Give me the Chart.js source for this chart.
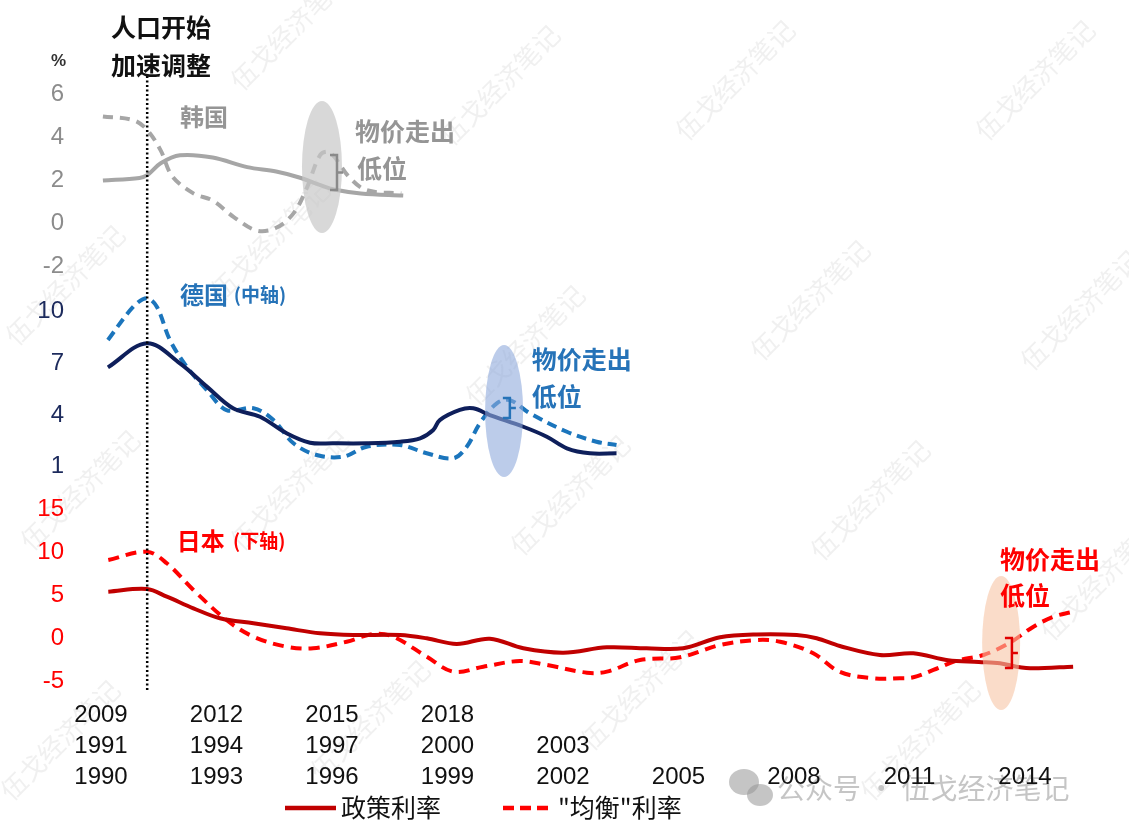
<!DOCTYPE html>
<html>
<head>
<meta charset="utf-8">
<script src="https://cdn.jsdelivr.net/npm/chart.js@4.4.1/dist/chart.umd.min.js"></script>
<style>
  html, body { margin: 0; padding: 0; background: #fff; }
  #wrap { width: 1129px; height: 832px; position: relative; }
</style>
</head>
<body>
<div id="wrap"><canvas id="rateChart"></canvas></div>
<script>
// Korea (top panel, years 2009-)
const krPolicyYears = [2009.05, 2010.0, 2010.2, 2010.55, 2011.05, 2011.9, 2012.8, 2013.55, 2014.15, 2014.7, 2015.05, 2015.75, 2016.85];
const krPolicy = [2.0, 2.12, 2.25, 2.8, 3.17, 3.07, 2.62, 2.42, 2.14, 1.78, 1.58, 1.4, 1.3];
const krNeutralYears = [2009.05, 2009.85, 2010.2, 2010.55, 2010.85, 2011.4, 2011.9, 2012.45, 2013.05, 2013.55, 2014.0, 2014.35, 2014.7, 2014.95, 2015.45, 2015.9, 2016.8];
const krNeutral = [4.98, 4.8, 4.35, 3.4, 2.2, 1.4, 1.07, 0.3, -0.33, -0.2, 0.47, 1.67, 3.2, 3.3, 2.15, 1.55, 1.4];

// Germany (middle panel, years 1991-)
const dePolicyYears = [1991.18, 1992.19, 1993.05, 1993.75, 1994.43, 1995.13, 1995.82, 1996.43, 1997.03, 1997.91, 1998.77, 1999.29, 1999.63, 1999.8, 2000.32, 2000.67, 2001.1, 2001.97, 2002.58, 2003.1, 2003.7, 2004.39];
const dePolicy = [6.77, 8.17, 7.0, 5.65, 4.39, 3.9, 2.94, 2.39, 2.36, 2.36, 2.45, 2.65, 3.13, 3.71, 4.3, 4.39, 4.0, 3.32, 2.74, 2.07, 1.78, 1.78];
const deNeutralYears = [1991.18, 1991.84, 1992.19, 1992.45, 1992.79, 1993.23, 1993.75, 1994.26, 1994.96, 1995.48, 1996.0, 1996.6, 1997.29, 1997.9, 1998.77, 1999.46, 2000.15, 2000.5, 2000.84, 2001.28, 2001.62, 2002.14, 2003.1, 2003.87, 2004.39];
const deNeutral = [8.36, 10.29, 10.78, 10.29, 8.36, 6.8, 5.45, 4.29, 4.39, 3.71, 2.36, 1.68, 1.58, 2.16, 2.26, 1.78, 1.49, 2.16, 3.52, 4.68, 4.87, 4.1, 3.03, 2.45, 2.26];

// Japan (bottom panel, years 1990-)
const jpPolicyYears = [1990.19, 1991.19, 1991.71, 1992.4, 1993.09, 1993.96, 1994.82, 1995.69, 1996.55, 1997.77, 1998.46, 1999.24, 2000.1, 2000.97, 2002.01, 2003.14, 2004.17, 2005.12, 2006.08, 2007.03, 2008.07, 2008.59, 2009.19, 2010.23, 2011.1, 2012.0, 2012.8, 2013.35, 2013.78, 2014.22, 2015.25];
const jpPolicy = [5.42, 5.73, 4.84, 3.49, 2.33, 1.74, 1.16, 0.58, 0.38, 0.38, 0.0, -0.66, -0.05, -1.16, -1.67, -1.05, -1.16, -1.16, 0.12, 0.45, 0.38, 0.0, -0.9, -1.94, -1.74, -2.55, -2.75, -2.9, -3.3, -3.49, -3.3];
const jpNeutralYears = [1990.19, 1991.19, 1991.71, 1992.4, 1993.26, 1993.96, 1994.82, 1995.51, 1996.38, 1997.07, 1997.59, 1998.46, 1999.15, 1999.93, 2000.88, 2001.58, 2002.62, 2003.14, 2004.0, 2005.04, 2006.08, 2007.03, 2007.64, 2008.5, 2009.19, 2010.06, 2010.75, 2011.1, 2011.62, 2012.23, 2012.92, 2013.61, 2014.22, 2014.74, 2015.25];
const jpNeutral = [9.1, 10.07, 8.72, 5.62, 2.13, 0.19, -0.98, -1.16, -0.4, 0.5, 0.19, -2.14, -3.88, -3.3, -2.64, -3.1, -4.0, -3.88, -2.52, -2.21, -0.78, -0.2, -0.4, -1.74, -3.9, -4.65, -4.65, -4.53, -3.68, -2.6, -1.94, -0.5, 1.35, 2.51, 3.09];

// tick labels
const krTicks = [6, 4, 2, 0, -2];
const deTicks = [10, 7, 4, 1];
const jpTicks = [15, 10, 5, 0, -5];
const krYearTicks = [2009, 2012, 2015, 2018];
const deYearTicks = [1991, 1994, 1997, 2000, 2003];
const jpYearTicks = [1990, 1993, 1996, 1999, 2002, 2005, 2008, 2011, 2014];

const shiftYearJP = 1991.2; // 人口开始加速调整

const CJK = '"Noto Sans CJK SC", "Noto Sans", sans-serif';
const NUM = '"Liberation Sans", Arial, sans-serif';

const KR_GREY = "#a6a6a6";
const KR_TEXT = "#959595";
const DE_NAVY = "#0e1f5b";
const DE_BLUE = "#1b75bc";
const DE_TEXT = "#2673b8";
const JP_DARK = "#c00000";
const JP_RED = "#ff0000";

function toPoints(xs, ys) {
    return xs.map((x, i) => ({ x: x, y: ys[i] }));
}

function fixedTicks(values) {
    return (axis) => {
        axis.ticks = values.map((v) => ({ value: v }));
    };
}

function yAxis(values, min, max, color, weight, stackWeight) {
    return {
        type: "linear",
        position: "left",
        stack: "panels",
        stackWeight: stackWeight,
        weight: weight,
        min: min,
        max: max,
        afterBuildTicks: fixedTicks(values),
        afterFit: (scale) => {
            scale.width = 75;
        },
        grid: { display: false, drawTicks: false },
        border: { display: false },
        ticks: {
            padding: 11,
            autoSkip: false,
            color: color,
            font: { family: NUM, size: 24 },
            callback: (v) => String(v),
        },
    };
}

function xAxis(values, min, weight) {
    return {
        type: "linear",
        position: "bottom",
        weight: weight,
        min: min,
        max: min + 26.623,
        afterBuildTicks: fixedTicks(values),
        afterFit: (scale) => {
            scale.height = 31;
        },
        grid: { display: false, drawTicks: false },
        border: { display: false },
        ticks: {
            padding: 5,
            autoSkip: false,
            maxRotation: 0,
            color: "#111",
            font: { family: NUM, size: 24 },
            callback: (v) => String(v),
        },
    };
}

function line(label, xs, ys, xId, yId, color, dash, width) {
    return {
        label: label,
        data: toPoints(xs, ys),
        xAxisID: xId,
        yAxisID: yId,
        borderColor: color,
        backgroundColor: color,
        borderWidth: width,
        borderDash: dash,
        pointRadius: 0,
        fill: false,
        tension: 0.35,
    };
}

// text notes placed in each panel's own data units
const notes = [
    { text: "韩国", x: "xKR", y: "yKR", xv: 2011.05, yv: 4.95, color: KR_TEXT, font: "bold 24px " + CJK },
    { text: "物价走出", x: "xKR", y: "yKR", xv: 2015.6, yv: 4.26, color: KR_TEXT, font: "bold 25px " + CJK },
    { text: "低位", x: "xKR", y: "yKR", xv: 2015.65, yv: 2.58, color: KR_TEXT, font: "bold 25px " + CJK },
    { text: "德国", x: "xDE", y: "yDE", xv: 1993.05, yv: 10.97, color: DE_TEXT, font: "bold 24px " + CJK },
    { text: "(中轴)", x: "xDE", y: "yDE", xv: 1994.45, yv: 10.97, color: DE_TEXT, font: "bold 19px " + CJK },
    { text: "物价走出", x: "xDE", y: "yDE", xv: 2002.19, yv: 7.25, color: DE_TEXT, font: "bold 25px " + CJK },
    { text: "低位", x: "xDE", y: "yDE", xv: 2002.19, yv: 5.05, color: DE_TEXT, font: "bold 25px " + CJK },
    { text: "日本", x: "xJP", y: "yJP", xv: 1991.97, yv: 11.31, color: JP_RED, font: "bold 24px " + CJK },
    { text: "(下轴)", x: "xJP", y: "yJP", xv: 1993.43, yv: 11.31, color: JP_RED, font: "bold 19px " + CJK },
    { text: "物价走出", x: "xJP", y: "yJP", xv: 2013.35, yv: 9.22, color: JP_RED, font: "bold 25px " + CJK },
    { text: "低位", x: "xJP", y: "yJP", xv: 2013.35, yv: 4.92, color: JP_RED, font: "bold 25px " + CJK },
];

// highlighted "prices leave the low" windows
const bubbles = [
    { x: "xKR", y: "yKR", xv: 2014.74, yv: 2.63, rx: 20, ry: 66, fill: "rgba(200,200,200,0.7)" },
    { x: "xDE", y: "yDE", xv: 2001.47, yv: 4.23, rx: 19, ry: 66, fill: "rgba(143,170,220,0.6)" },
    { x: "xJP", y: "yJP", xv: 2013.38, yv: -0.55, rx: 19, ry: 67, fill: "rgba(246,196,165,0.6)" },
];

const gaps = [
    { x: "xKR", y: "yKR", xv: 2015.13, top: 3.19, bottom: 1.56, color: "#8a8a8a" },
    { x: "xDE", y: "yDE", xv: 2001.62, top: 4.99, bottom: 3.83, color: DE_TEXT },
    { x: "xJP", y: "yJP", xv: 2013.66, top: 0.03, bottom: -3.45, color: "#e00000" },
];

const watermarkSpots = [
    [290, 30], [500, 85], [735, 80], [1035, 80],
    [65, 285], [270, 240], [525, 345], [810, 300], [1080, 310],
    [80, 490], [290, 490], [570, 495], [870, 500], [1100, 580],
    [60, 740], [370, 720], [640, 690], [920, 740],
];

const overlayPlugin = {
    id: "overlay",
    beforeDraw(chart) {
        const ctx = chart.ctx;
        ctx.save();
        ctx.fillStyle = "rgba(150,150,150,0.14)";
        ctx.font = "26px " + CJK;
        ctx.textAlign = "center";
        ctx.textBaseline = "middle";
        watermarkSpots.forEach(([x, y]) => {
            ctx.save();
            ctx.translate(x, y);
            ctx.rotate(-Math.PI / 4);
            ctx.fillText("伍戈经济笔记", 0, 0);
            ctx.restore();
        });
        // 公众号 mark
        ctx.fillStyle = "rgba(150,150,150,0.55)";
        ctx.beginPath();
        ctx.ellipse(744, 782, 15, 13, 0, 0, Math.PI * 2);
        ctx.fill();
        ctx.beginPath();
        ctx.ellipse(760, 795, 13, 11, 0, 0, Math.PI * 2);
        ctx.fill();
        ctx.font = "28px " + CJK;
        ctx.textAlign = "left";
        ctx.fillText("公众号 · 伍戈经济笔记", 777, 788);
        ctx.restore();
    },
    afterDatasetsDraw(chart) {
        const ctx = chart.ctx;
        const s = chart.scales;
        ctx.save();
        bubbles.forEach((b) => {
            const cx = s[b.x].getPixelForValue(b.xv);
            const cy = s[b.y].getPixelForValue(b.yv);
            ctx.fillStyle = b.fill;
            ctx.beginPath();
            ctx.ellipse(cx, cy, b.rx, b.ry, 0, 0, Math.PI * 2);
            ctx.fill();
        });
        gaps.forEach((g) => {
            const x = s[g.x].getPixelForValue(g.xv);
            const y1 = s[g.y].getPixelForValue(g.top);
            const y2 = s[g.y].getPixelForValue(g.bottom);
            const ym = (y1 + y2) / 2;
            ctx.strokeStyle = g.color;
            ctx.lineWidth = 2.5;
            ctx.beginPath();
            ctx.moveTo(x - 7, y1);
            ctx.lineTo(x, y1);
            ctx.lineTo(x, y2);
            ctx.lineTo(x - 7, y2);
            ctx.moveTo(x, ym);
            ctx.lineTo(x + 6, ym);
            ctx.stroke();
        });
        // population turning point
        const lx = s.xJP.getPixelForValue(shiftYearJP);
        ctx.strokeStyle = "#000";
        ctx.lineWidth = 2.5;
        ctx.setLineDash([2, 2.5]);
        ctx.beginPath();
        ctx.moveTo(lx, 76);
        ctx.lineTo(lx, chart.chartArea.bottom - 6);
        ctx.stroke();
        ctx.restore();
    },
    afterDraw(chart) {
        const ctx = chart.ctx;
        const s = chart.scales;
        ctx.save();
        ctx.textAlign = "left";
        ctx.textBaseline = "middle";
        notes.forEach((n) => {
            ctx.font = n.font;
            ctx.fillStyle = n.color;
            ctx.fillText(n.text, s[n.x].getPixelForValue(n.xv), s[n.y].getPixelForValue(n.yv));
        });
        ctx.fillStyle = "#111";
        ctx.font = "bold 25px " + CJK;
        ctx.fillText("人口开始", 111, 27);
        ctx.fillText("加速调整", 111, 65);
        ctx.font = "bold 17px " + NUM;
        ctx.fillStyle = "#333";
        ctx.fillText("%", 51, 61);

        // legend
        ctx.lineWidth = 4.5;
        ctx.strokeStyle = JP_DARK;
        ctx.beginPath();
        ctx.moveTo(285, 808);
        ctx.lineTo(336, 808);
        ctx.stroke();
        ctx.strokeStyle = JP_RED;
        ctx.setLineDash([11, 6]);
        ctx.beginPath();
        ctx.moveTo(503, 808);
        ctx.lineTo(550, 808);
        ctx.stroke();
        ctx.setLineDash([]);
        ctx.fillStyle = "#111";
        ctx.font = "25px " + CJK;
        ctx.fillText("政策利率", 341, 807);
        ctx.fillText("\"均衡\"利率", 558, 807);
        ctx.restore();
    },
};

const ctx = document.getElementById("rateChart").getContext("2d");

new Chart(ctx, {
    type: "line",
    data: {
        datasets: [
            line("韩国 政策利率", krPolicyYears, krPolicy, "xKR", "yKR", KR_GREY, [], 4),
            line("韩国 均衡利率", krNeutralYears, krNeutral, "xKR", "yKR", KR_GREY, [10, 7], 4),
            line("德国 政策利率", dePolicyYears, dePolicy, "xDE", "yDE", DE_NAVY, [], 4),
            line("德国 均衡利率", deNeutralYears, deNeutral, "xDE", "yDE", DE_BLUE, [10, 6], 4),
            line("日本 政策利率", jpPolicyYears, jpPolicy, "xJP", "yJP", JP_DARK, [], 4),
            line("日本 均衡利率", jpNeutralYears, jpNeutral, "xJP", "yJP", JP_RED, [11, 7], 4),
        ],
    },
    options: {
        responsive: true,
        maintainAspectRatio: false,
        animation: false,
        layout: {
            padding: { top: 78, right: 29, bottom: 43, left: 0 },
        },
        plugins: {
            legend: { display: false },
            tooltip: { enabled: false },
        },
        scales: {
            xKR: xAxis(krYearTicks, 2008.325, 1),
            xDE: xAxis(deYearTicks, 1990.325, 2),
            xJP: xAxis(jpYearTicks, 1989.325, 3),
            yKR: yAxis(krTicks, -2.86, 6.767, "#8c8c8c", 3, 207),
            yDE: yAxis(deTicks, -0.353, 11.552, "#1c2a5c", 2, 205),
            yJP: yAxis(jpTicks, -6.709, 17.244, JP_RED, 1, 206),
        },
    },
    plugins: [overlayPlugin],
});
</script>
</body>
</html>
